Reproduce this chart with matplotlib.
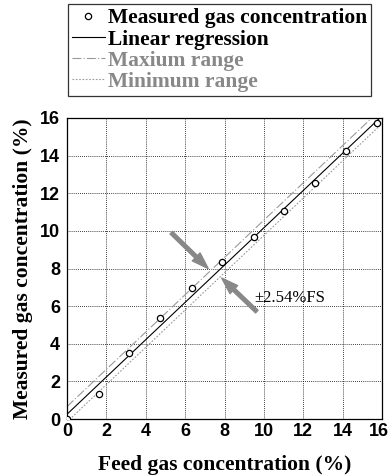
#!/usr/bin/env python3
import numpy as np
import matplotlib
matplotlib.use("Agg")
import matplotlib.pyplot as plt
from matplotlib import font_manager
from matplotlib.transforms import ScaledTranslation

feed = [0.0, 1.6, 3.17, 4.72, 6.33, 7.87, 9.48, 11.03, 12.62, 14.15, 15.73]
measured = [0.0, 1.33, 3.5, 5.36, 6.99, 8.32, 9.67, 11.03, 12.54, 14.22, 15.75]

full_scale = 16.0
fs_error = 2.54  # %FS

ticks = [0, 2, 4, 6, 8, 10, 12, 14, 16]

# arrow (tail, head) in data units
arrow_upper = ((5.3, 9.9), (7.17, 8.0))
arrow_lower = ((9.64, 5.71), (7.86, 7.49))

SERIF = "Liberation Serif"
installed = {f.name for f in font_manager.fontManager.ttflist}
SANS = "Liberation Sans Narrow" if "Liberation Sans Narrow" in installed else "Liberation Sans"


def main():
    fig = plt.figure(figsize=(3.9, 4.76), dpi=100)
    ax = fig.add_axes([67 / 390, 1 - 419 / 476, 315 / 390, 301 / 476])

    slope, intercept = np.polyfit(feed, measured, 1)
    xs = np.array([0.0, 16.0])
    fit = slope * xs + intercept
    offset = fs_error / 100 * full_scale

    ax.plot(feed, measured, "o", mfc="white", mec="black", mew=0.9, ms=4.5,
            label="Measured gas concentration", zorder=5)
    ax.plot(xs, fit, color="black", lw=0.8, label="Linear regression")
    ax.plot(xs, fit + offset, color="#999999", lw=0.8, ls=(0, (8, 2, 1, 2)),
            label="Maxium range")
    ax.plot(xs, fit - offset, color="#999999", lw=0.8, ls=(0, (1.5, 1.5)),
            label="Minimum range")

    for tail, head in (arrow_upper, arrow_lower):
        ax.annotate("", xy=head, xytext=tail,
                    arrowprops=dict(facecolor="#888888", edgecolor="#888888",
                                    width=2.6, headwidth=8, headlength=12,
                                    shrink=0))

    ax.text(9.5, 6.45, "\u00b12.54%FS", fontsize=12, family=SERIF,
            va="center", ha="left")

    ax.set_xlim(0, 16)
    ax.set_ylim(0, 16)
    ax.set_xticks(ticks)
    ax.set_yticks(ticks)
    for lab in ax.get_xticklabels() + ax.get_yticklabels():
        lab.set_family(SANS)
        lab.set_fontweight("bold")
        lab.set_fontsize(13)
    ax.tick_params(direction="in", length=0)
    ax.tick_params(axis="x", pad=3)
    ax.tick_params(axis="y", pad=5)
    # nudge the last x label so it stays inside the figure
    last = ax.get_xticklabels()[-1]
    last.set_transform(last.get_transform() + ScaledTranslation(-3 / 100, 0, fig.dpi_scale_trans))

    ax.grid(True, color="black", ls=(0, (1, 1.5)), lw=0.6)
    for sp in ax.spines.values():
        sp.set_linewidth(0.9)

    ax.set_xlabel("Feed gas concentration (%)", family=SERIF,
                  fontweight="bold", fontsize=15.5, labelpad=11)
    ax.set_ylabel("Measured gas concentration (%)", family=SERIF,
                  fontweight="bold", fontsize=15.5, labelpad=5)

    leg = fig.legend(loc="upper left", bbox_to_anchor=(68 / 390, 1 - 4 / 476),
                     prop=dict(family=SERIF, weight="bold", size=15.5),
                     frameon=True, fancybox=False, edgecolor="black",
                     handlelength=1.5, handletextpad=0.15, labelspacing=0.05,
                     borderpad=0.2, borderaxespad=0)
    leg.get_frame().set_linewidth(0.9)
    for txt, col in zip(leg.get_texts(), ["black", "black", "#888888", "#888888"]):
        txt.set_color(col)

    fig.savefig("out.png", dpi=100)


if __name__ == "__main__":
    main()
